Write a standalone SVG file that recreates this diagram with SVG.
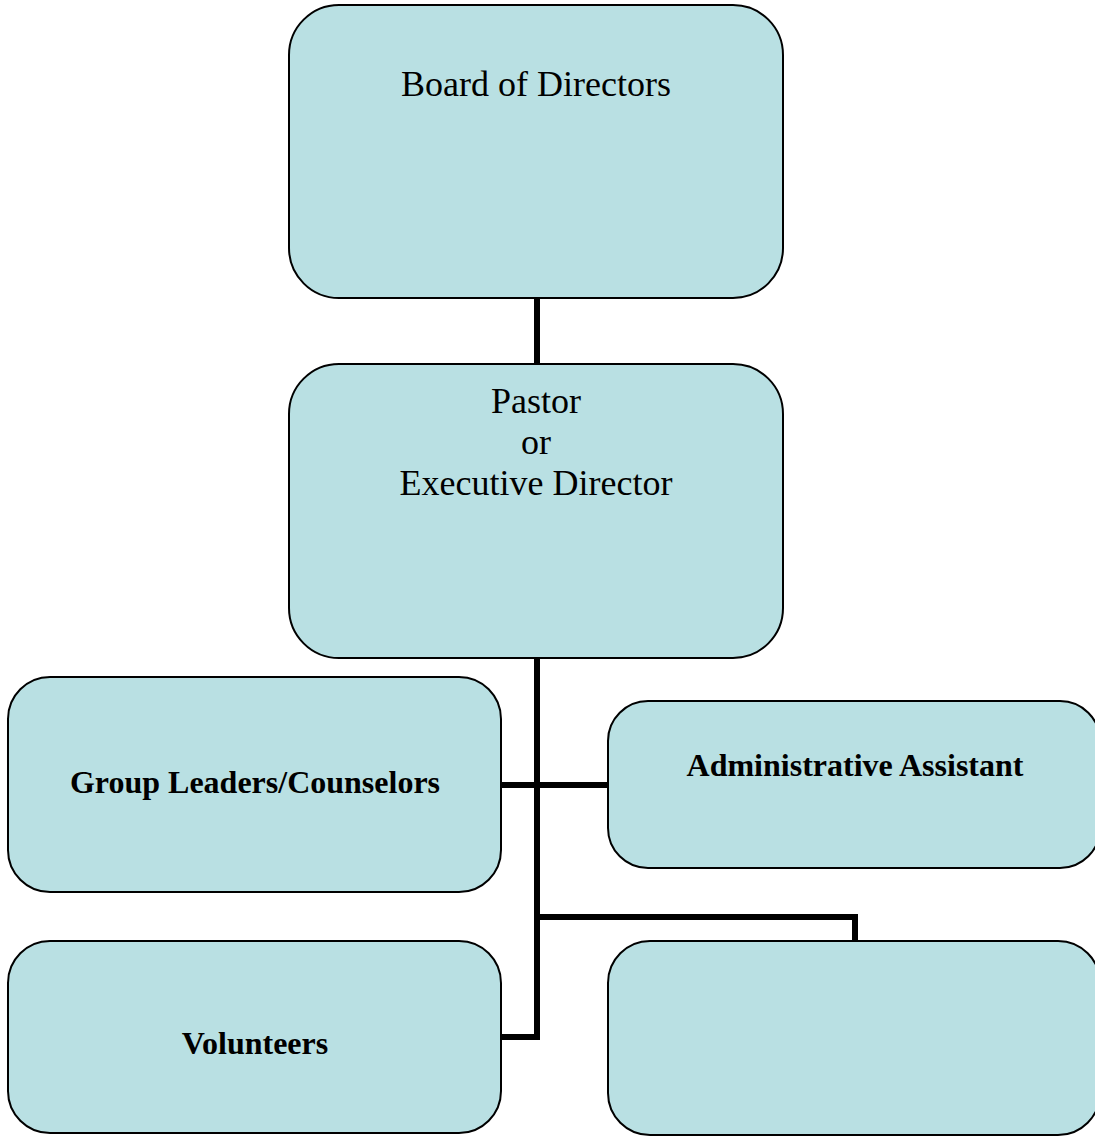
<svg xmlns="http://www.w3.org/2000/svg" width="1095" height="1137" viewBox="0 0 1095 1137">
<style>
.box{fill:#b9e0e3;stroke:#000;stroke-width:2}
.t{font-family:"Liberation Serif","Times New Roman",serif;font-size:36px;fill:#000;text-anchor:middle}
.b{font-family:"Liberation Serif","Times New Roman",serif;font-size:32px;font-weight:bold;fill:#000;text-anchor:middle}
.c{fill:none;stroke:#000;stroke-width:6;stroke-linecap:butt;stroke-linejoin:miter}
</style>
<rect width="1095" height="1137" fill="#fff"/>
<g id="connectors">
<path class="c" d="M537 298 V364"/>
<path class="c" d="M537 658 V1037 H501"/>
<path class="c" d="M501 785 H608"/>
<path class="c" d="M537 917 H855 V941"/>
</g>
<g id="board">
<rect class="box" x="289" y="5" width="494" height="293" rx="50" ry="50"/>
<text class="t" x="536" y="96">Board of Directors</text>
</g>
<g id="pastor">
<rect class="box" x="289" y="364" width="494" height="294" rx="50" ry="50"/>
<text class="t" x="536" y="413">Pastor</text>
<text class="t" x="536" y="454">or</text>
<text class="t" x="536" y="495">Executive Director</text>
</g>
<g id="group-leaders">
<rect class="box" x="8" y="677" width="493" height="215" rx="42" ry="42"/>
<text class="b" x="255" y="793">Group Leaders/Counselors</text>
</g>
<g id="admin">
<rect class="box" x="608" y="701" width="492" height="167" rx="40" ry="40"/>
<text class="b" x="855" y="776">Administrative Assistant</text>
</g>
<g id="volunteers">
<rect class="box" x="8" y="941" width="493" height="192" rx="42" ry="42"/>
<text class="b" x="255" y="1054">Volunteers</text>
</g>
<g id="blank">
<rect class="box" x="608" y="941" width="492" height="194" rx="42" ry="42"/>
</g>
</svg>
